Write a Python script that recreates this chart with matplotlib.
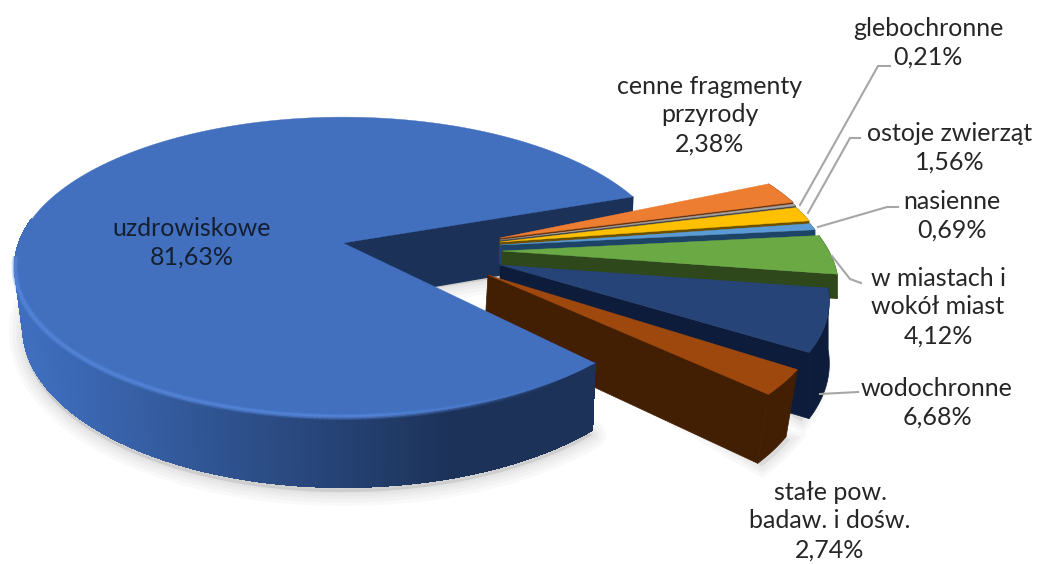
import numpy as np
import matplotlib

matplotlib.use("Agg")
import matplotlib.pyplot as plt
from matplotlib.collections import LineCollection, PolyCollection
from matplotlib.colors import to_rgb
from matplotlib.patches import Polygon

plt.rcParams["font.family"] = ["Lato", "DejaVu Sans"]

# %% Data

names = [
    "cenne fragmenty\nprzyrody",
    "glebochronne",
    "ostoje zwierząt",
    "nasienne",
    "w miastach i\nwokół miast",
    "wodochronne",
    "stałe pow.\nbadaw. i dośw.",
    "uzdrowiskowe",
]
shares = [2.38, 0.21, 1.56, 0.69, 4.12, 6.68, 2.74, 81.63]
top_colors = [
    "#ED7D31", "#A5A5A5", "#FFC000", "#5B9BD5",
    "#6AA944", "#264478", "#9E480E", "#4270BF",
]
side_colors = [
    "#6B3510", "#4A4A4A", "#6A5000", "#1D4366",
    "#2E471B", "#0C1C3A", "#421E02", "#1B3158",
]

# %% Config

K = 0.16
CX, CY = 343, 243
RX, RY = 324, 146
DEPTH = 59

label_pos = [(710, 115), (928, 43), (950, 148), (952, 216), (938, 307),
             (937, 403), (830, 521), (192, 243)]

leaders = [
    None,
    [(800, 205), (878, 66), (890, 66)],
    [(808, 213), (850, 138), (860, 138)],
    [(818, 227), (887, 207), (898, 207)],
    [(832, 256), (850, 279), (861, 283)],
    [(820, 394), (858, 392)],
    None,
    None,
]

SMALL_APEX = [(500, 238), (500, 240), (500, 242), (500, 245), (502, 251), (500, 265)]
SMALL_R = [1.0, 1.0, 1.0, 1.0, 1.0, 0.965]
SMALL_DEPTH = [0.4, 0.4, 0.4, 0.4, 0.4, 1.0]
STALE_APEX = (488, 275)
STALE_START = -34.5
STALE_R = 0.97
START = 23.5
MAIN_START = 19.5


def project(X, Y):
    w = 1 + K * np.asarray(Y)
    return CX + RX * np.asarray(X) / w, CY - RY * np.asarray(Y) / w, DEPTH / w


def unproject(px, py):
    v = (CY - py) / RY
    Y = v / (1 - K * v)
    X = (px - CX) / RX * (1 + K * Y)
    return X, Y


def rim(apex, a0, a1, r=1.0, n=60):
    ax0, ay0 = unproject(*apex)
    t = np.radians(np.linspace(a0, a1, n))
    return project(ax0 + r * np.cos(t), ay0 + r * np.sin(t))


def low_x(x, shrink=0.975):
    return CX + (x - CX) * shrink


def main_low_x(x):
    return np.where(x < CX, low_x(x), low_x(x, 0.99))


def draw_slice(ax, apex, a0, a1, top, side, r=1.0, z=1, shrink=1.0, depth=1.0):
    x, y, d = rim(apex, a0, a1, r)
    d = d * depth
    apex_d = project(*unproject(*apex))[2] * depth
    lx = low_x(x, shrink)
    face = list(zip(lx, y + d)) + list(zip(x[::-1], y[::-1]))
    cut = [apex, (x[-1], y[-1]), (lx[-1], y[-1] + d[-1]), (low_x(apex[0], shrink), apex[1] + apex_d)]
    ax.add_patch(Polygon(face, fc=side, ec=side, lw=0.5, zorder=z))
    ax.add_patch(Polygon(cut, fc=side, ec=side, lw=0.5, zorder=z))
    ax.add_patch(
        Polygon([apex] + list(zip(x, y)), fc=top, ec=top, lw=0.3, zorder=z + 0.1)
    )


fig = plt.figure(figsize=(10.37, 5.64), dpi=100)
ax = fig.add_axes([0, 0, 1, 1])
ax.set_xlim(0, 1037)
ax.set_ylim(564, 0)
ax.axis("off")

main_span = shares[7] * 3.6
main_end = MAIN_START + main_span
mx, my, md = rim((CX, CY), MAIN_START, main_end, n=400)
lx = main_low_x(mx)

# %% Small slice angles

starts, ends = [], []
angle = START
for share in shares[:6]:
    starts.append(angle)
    angle -= share * 3.6
    ends.append(angle)

# %% Soft shadow

shadow = list(zip(lx, my + md + 5)) + [(CX, CY + DEPTH)]
for w in [20, 15, 10, 6, 3]:
    ax.add_patch(
        Polygon(shadow, fc=(0.55, 0.55, 0.55, 0.05), ec=(0.55, 0.55, 0.55, 0.05),
                lw=w, joinstyle="round", zorder=0)
    )
wx, wy, wd = rim(SMALL_APEX[5], starts[5], ends[5], SMALL_R[5])
sx, sy, sd = rim(STALE_APEX, STALE_START, STALE_START - shares[6] * 3.6, STALE_R)
for w in [14, 9, 5]:
    for px, py, pd in [(wx, wy, wd), (sx, sy, sd)]:
        ax.add_patch(
            Polygon(list(zip(low_x(px) + 4, py + pd + 3)) + [(px[-1] - 150, py[-1] + pd[-1] - 80)],
                    fc=(0.55, 0.55, 0.55, 0.06), ec=(0.55, 0.55, 0.55, 0.06),
                    lw=w, zorder=0)
        )

# %% Far cut face of the big slice

d0 = project(*unproject(CX, CY))[2]
ax.add_patch(
    Polygon(
        [(CX, CY), (mx[0], my[0]), (lx[0], my[0] + md[0]), (CX, CY + d0)],
        fc=side_colors[7], ec=side_colors[7], zorder=1,
    )
)

# %% Small slices, far to near

for i in range(6):
    draw_slice(ax, SMALL_APEX[i], starts[i], ends[i], top_colors[i], side_colors[i],
               r=SMALL_R[i], z=2 + i, depth=SMALL_DEPTH[i])

draw_slice(ax, STALE_APEX, STALE_START, STALE_START - shares[6] * 3.6,
           top_colors[6], side_colors[6], r=STALE_R, z=9, shrink=0.975)

# %% Big slice

angles = np.linspace(MAIN_START, main_end, len(mx))
ts = np.nonzero(angles[:-1] >= 170)[0]
polys = [
    [(mx[j], my[j]), (mx[j + 1], my[j + 1]),
     (lx[j + 1], my[j + 1] + md[j + 1]), (lx[j], my[j] + md[j])]
    for j in ts
]
light, dark = np.array(to_rgb("#3F6EBE")), np.array(to_rgb("#1C3259"))
frac = np.clip((mx[ts] - 30) / 420, 0, 1)
seg_colors = [light + (dark - light) * f for f in frac]
ax.add_collection(
    PolyCollection(polys, facecolors=seg_colors, edgecolors=seg_colors, lw=0.8,
                   antialiaseds=False, zorder=10)
)
ax.add_patch(
    Polygon([(CX, CY)] + list(zip(mx, my)), fc=top_colors[7], ec=top_colors[7], lw=0.3, zorder=11)
)

# bevel highlight along the near rim
segs = [[(mx[j], my[j]), (mx[j + 1], my[j + 1])] for j in ts]
hl = np.array(to_rgb("#5A8BE0"))
alpha = np.where(my[ts] > 255, np.clip((560 - mx[ts]) / 200, 0, 1) * 0.8, 0)
for lw, scale in [(4.5, 0.35), (2.5, 0.7)]:
    ax.add_collection(
        LineCollection(segs, colors=[(*hl, a * scale) for a in alpha], linewidths=lw,
                       capstyle="butt", zorder=12)
    )

# %% Labels

for leader in leaders:
    if leader:
        ax.plot(*zip(*leader), color="#A6A6A6", lw=1.5, zorder=13,
                solid_joinstyle="miter")

for i, (name, share) in enumerate(zip(names, shares)):
    pct = f"{share:.2f}%".replace(".", ",")
    ax.text(
        *label_pos[i],
        name + "\n" + pct,
        ha="center", va="center", fontsize=18, linespacing=1.3,
        color="#14202F" if i == 7 else "#262626", zorder=14,
    )

fig.savefig("out.png", dpi=100)
